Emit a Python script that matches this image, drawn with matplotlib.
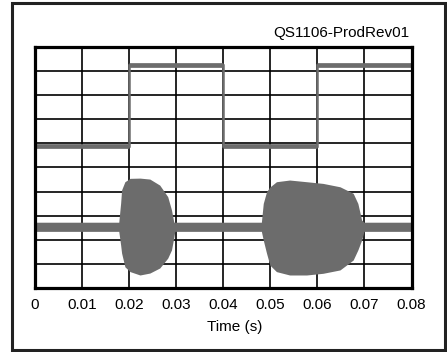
import matplotlib
matplotlib.use("Agg")
import matplotlib.pyplot as plt
from matplotlib.patches import Rectangle

plt.rcParams['font.family'] = ['Liberation Sans', 'DejaVu Sans']

TRACE = "#6c6c6c"

# Square wave (control signal), in grid divisions
SQ_EDGES = [0.0, 0.02, 0.04, 0.06, 0.08]
SQ_LEVELS = [5.88, 9.25, 5.88, 9.25]

# Noise band on the lower trace: time, upper envelope, lower envelope
BAND_T = [0.0, 0.0178, 0.0182, 0.0184, 0.0191, 0.0202, 0.0223, 0.0244, 0.0265,
          0.0282, 0.0290, 0.0295, 0.0297, 0.0481, 0.0485, 0.0492, 0.0499, 0.0513,
          0.0541, 0.0577, 0.0612, 0.0648, 0.0676, 0.0686, 0.0694, 0.0699, 0.08]
BAND_HI = [2.73, 2.73, 3.53, 4.07, 4.41, 4.55, 4.56, 4.52, 4.27,
           3.79, 3.24, 2.73, 2.73, 2.73, 3.51, 4.00, 4.19, 4.41,
           4.48, 4.41, 4.34, 4.20, 3.93, 3.51, 2.82, 2.73, 2.73]
BAND_LO = [2.35, 2.35, 1.78, 1.45, 0.88, 0.68, 0.54, 0.62, 0.83,
           1.24, 1.58, 2.10, 2.35, 2.35, 1.99, 1.44, 0.95, 0.68,
           0.54, 0.54, 0.61, 0.75, 1.16, 1.58, 1.99, 2.35, 2.35]

X_TICKS = [0, 0.01, 0.02, 0.03, 0.04, 0.05, 0.06, 0.07, 0.08]
X_LABELS = ["0", "0.01", "0.02", "0.03", "0.04", "0.05", "0.06", "0.07", "0.08"]

fig = plt.figure(figsize=(4.47, 3.52), dpi=100)
ax = fig.add_axes([0.0783, 0.1818, 0.8423, 0.6847])

ax.fill_between(BAND_T, BAND_LO, BAND_HI, color=TRACE, lw=0, zorder=3)
# thin risers plus thicker (noisy) flat levels
ax.stairs(SQ_LEVELS, SQ_EDGES, color=TRACE, lw=1.8, zorder=3)
ax.hlines(SQ_LEVELS, SQ_EDGES[:-1], SQ_EDGES[1:], color=TRACE, lw=3.4, zorder=3)

ax.set_xlim(0, 0.08)
ax.set_ylim(0, 10)
ax.set_xticks(X_TICKS)
ax.set_xticklabels(X_LABELS, fontsize=11)
ax.set_yticks(range(11))
ax.set_yticklabels([])
ax.tick_params(length=0, pad=7)
ax.grid(True, color="black", lw=1.2, zorder=1)
ax.set_axisbelow(True)
for sp in ax.spines.values():
    sp.set_linewidth(2.3)
    sp.set_zorder(4)

fig.text(235 / 447, 1 - 326.7 / 352, "Time (s)", ha="center", va="center", fontsize=11)
fig.text(409 / 447, 1 - 33 / 352, "QS1106-ProdRev01", ha="right", va="center", fontsize=11)

# outer frame
fig.patches.append(Rectangle((0.0268, 0.0071), 0.9698, 0.9844, transform=fig.transFigure,
                             fill=False, edgecolor="#222222", lw=2.2))

fig.savefig("out.png", dpi=100)
